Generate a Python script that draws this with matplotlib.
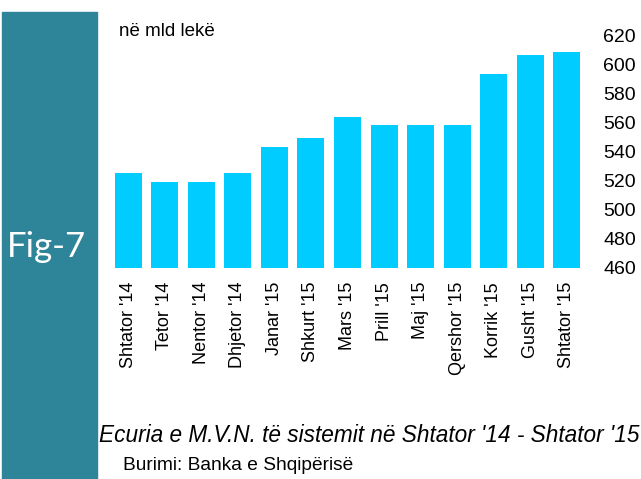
import matplotlib.pyplot as plt
from matplotlib.patches import Rectangle

months = ["Shtator '14", "Tetor '14", "Nentor '14", "Dhjetor '14", "Janar '15", "Shkurt '15",
          "Mars '15", "Prill '15", "Maj '15", "Qershor '15", "Korrik '15", "Gusht '15", "Shtator '15"]
values = [525, 519, 519, 525, 543, 549, 564, 558, 558, 558, 593, 606, 608]
yticks = [460, 480, 500, 520, 540, 560, 580, 600, 620]

plt.rcParams['font.family'] = ['Liberation Sans', 'DejaVu Sans']

W, H = 641, 479
fig = plt.figure(figsize=(W / 100, H / 100), dpi=100)
renderer = fig.canvas.get_renderer()


def fit_text(t, width_px):
    # scale font size so the text spans the given width
    w = t.get_window_extent(renderer).width
    t.set_fontsize(t.get_fontsize() * width_px / w)
    return t


# teal side panel
fig.patches.append(Rectangle((2 / W, 0), 95 / W, 1 - 12 / H, transform=fig.transFigure,
                             color='#2E8599', zorder=0))
fig.text(46 / W, 1 - 247 / H, 'Fig-7', color='white', fontsize=25, family=['Lato', 'DejaVu Sans'],
         ha='center', va='center')

ax = fig.add_axes([110 / W, 1 - 268 / H, 475 / W, 233 / H])
x = range(len(months))
ax.bar(x, values, width=0.74, color='#00CCFF')
ax.set_xlim(-0.5, len(months) - 0.5)
ax.set_ylim(460, 620)
ax.set_yticks(yticks)
ax.yaxis.tick_right()
ax.tick_params(axis='y', length=0, pad=13, labelsize=14)
ax.set_xticks(list(x))
ax.set_xticklabels(months, rotation=90, fontsize=13)
ax.tick_params(axis='x', length=0, pad=10)
for s in ax.spines.values():
    s.set_visible(False)

fit_text(fig.text(119 / W, 1 - 31 / H, 'në mld lekë', fontsize=12, va='center'), 96)
fit_text(fig.text(99 / W, 1 - 436 / H, "Ecuria e M.V.N. të sistemit në Shtator '14 - Shtator '15",
                  fontsize=13, style='italic', va='center'), 540)
fit_text(fig.text(123 / W, 1 - 466 / H, 'Burimi: Banka e Shqipërisë', fontsize=12, va='center'), 232)

fig.savefig('out.png', dpi=100)
